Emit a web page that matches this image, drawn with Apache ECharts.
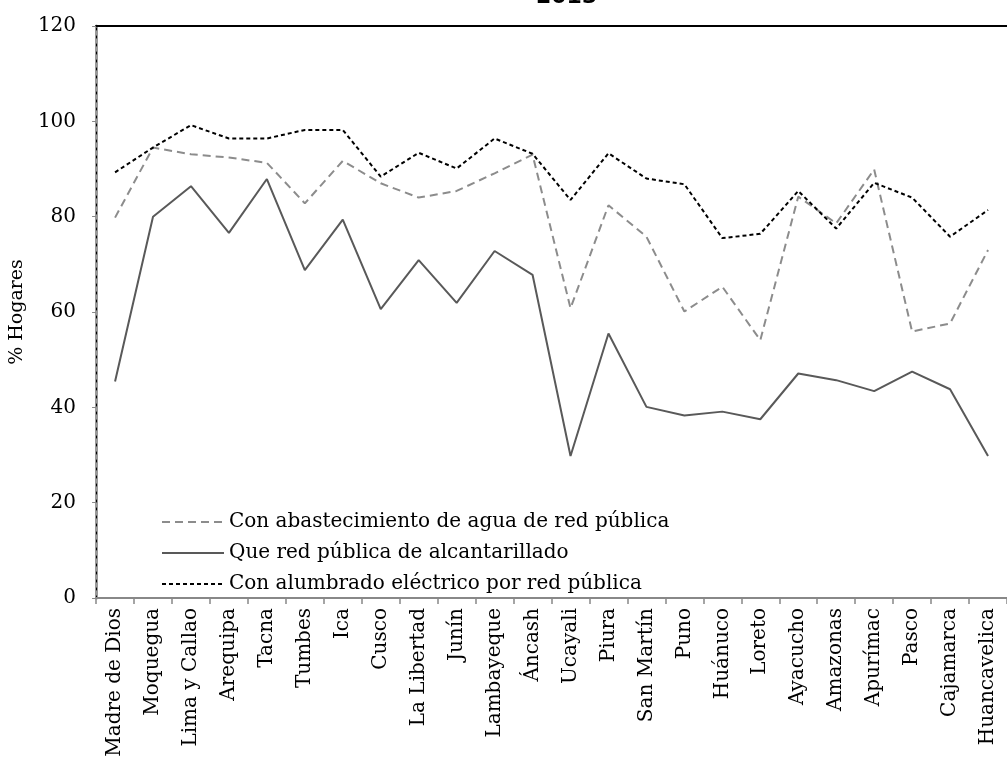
<!DOCTYPE html>
<html>
<head>
<meta charset="utf-8">
<script src="https://cdn.jsdelivr.net/npm/echarts@6/dist/echarts.min.js"></script>
<style>html,body{margin:0;padding:0;background:#fff}#c{width:1007px;height:762px}</style>
</head>
<body>
<div id="c"></div>
<script>
const categories = ["Madre de Dios","Moquegua","Lima y Callao","Arequipa","Tacna","Tumbes","Ica","Cusco","La Libertad","Junín","Lambayeque","Áncash","Ucayali","Piura","San Martín","Puno","Huánuco","Loreto","Ayacucho","Amazonas","Apurímac","Pasco","Cajamarca","Huancavelica"];
const agua = [79.8,94.5,93.1,92.4,91.3,82.8,91.7,87.0,84.0,85.4,89.1,93.0,60.8,82.4,75.8,60.1,65.3,54.1,84.2,78.6,89.9,55.9,57.6,73.0];
const alcantarillado = [45.4,80.0,86.4,76.6,87.9,68.8,79.4,60.6,70.9,61.9,72.8,67.8,29.8,55.5,40.1,38.3,39.1,37.5,47.1,45.7,43.4,47.5,43.8,29.8];
const electrico = [89.3,94.5,99.2,96.4,96.4,98.2,98.2,88.4,93.4,90.1,96.4,93.2,83.5,93.3,88.0,86.8,75.5,76.4,85.4,77.5,87.1,84.0,75.8,81.4];
const seriesNames = ["Con abastecimiento de agua de red pública","Que red pública de alcantarillado","Con alumbrado eléctrico por red pública"];
const yTicks = {min:0, max:120, interval:20};
const titleText = "2013";

const FONT = "DejaVu Serif";
const chart = echarts.init(document.getElementById('c'));
chart.setOption({
  animation:false,
  backgroundColor:'#fff',
  title:{text:titleText,left:531,top:-19,textStyle:{fontFamily:'DejaVu Sans',fontWeight:'bold',fontSize:22,color:'#000'}},
  grid:{left:95,top:26,bottom:164,width:915,containLabel:false},
  legend:{
    orient:'vertical',left:156,top:507,itemGap:11,itemWidth:62,itemHeight:14,
    itemStyle:{opacity:0},
    textStyle:{fontFamily:FONT,fontSize:20,color:'#000',lineHeight:20},
    data:seriesNames
  },
  xAxis:[{
    type:'category',data:categories,boundaryGap:true,
    axisLine:{onZero:false,lineStyle:{color:'#888',width:2}},
    axisTick:{show:true,length:6,lineStyle:{color:'#888',width:1.5}},
    axisLabel:{rotate:90,fontFamily:FONT,fontSize:20,color:'#000',margin:10,interval:0},
    splitLine:{show:false}
  },{
    type:'category',data:categories,position:'top',boundaryGap:true,
    axisLine:{onZero:false,lineStyle:{color:'#000',width:2}},axisTick:{show:false},axisLabel:{show:false}
  }],
  yAxis:[{
    type:'value',min:yTicks.min,max:yTicks.max,interval:yTicks.interval,
    name:'% Hogares',nameLocation:'middle',nameGap:60,nameRotate:90,
    nameTextStyle:{fontFamily:FONT,fontSize:19,color:'#000'},
    axisLine:{show:true,onZero:false,lineStyle:{color:'#999',width:3}},
    axisTick:{show:true,length:4,lineStyle:{color:'#888',width:1}},
    axisLabel:{fontFamily:FONT,fontSize:20,color:'#000',margin:20},
    splitLine:{show:false}
  },{
    type:'value',min:yTicks.min,max:yTicks.max,interval:yTicks.interval,position:'left',
    axisLine:{show:true,onZero:false,lineStyle:{color:'#000',width:1,type:[2,6]}},
    axisTick:{show:false},axisLabel:{show:false},splitLine:{show:false}
  }],
  series:[
    {name:seriesNames[0],type:'line',data:agua,symbol:'none',lineStyle:{color:'#8c8c8c',width:2,type:[8,5]},itemStyle:{color:'#8c8c8c'}},
    {name:seriesNames[1],type:'line',data:alcantarillado,symbol:'none',lineStyle:{color:'#595959',width:2,type:'solid'},itemStyle:{color:'#595959'}},
    {name:seriesNames[2],type:'line',data:electrico,symbol:'none',lineStyle:{color:'#000',width:2,type:[4,3]},itemStyle:{color:'#000'}}
  ]
});
</script>
</body>
</html>
